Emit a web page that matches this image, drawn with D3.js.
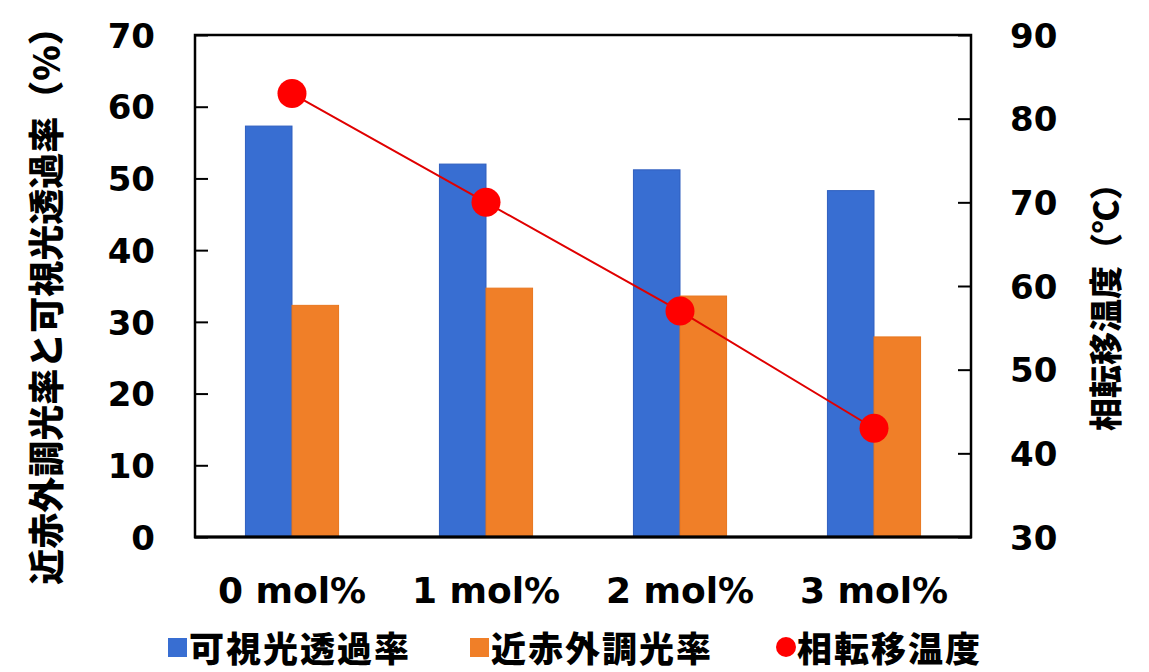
<!DOCTYPE html>
<html><head><meta charset="utf-8">
<script src="https://cdn.jsdelivr.net/npm/d3@7"></script>
<style>
body{margin:0;background:#fff;}
svg{display:block;}
.num{font-family:"DejaVu Sans",Verdana,sans-serif;font-weight:bold;fill:#000;}
.cjk{font-family:"Noto Sans CJK JP","Noto Sans CJK SC",sans-serif;font-weight:900;fill:#000;}
</style></head>
<body>
<svg id="c" width="1149" height="672"></svg>
<script>
const categories = ["0 mol%", "1 mol%", "2 mol%", "3 mol%"];
const visibleTransmittance = [57.3, 52.0, 51.2, 48.3];
const nirModulation = [32.3, 34.7, 33.6, 27.9];
const transitionTemp = [83, 70, 57, 43];
const leftTicks = [0, 10, 20, 30, 40, 50, 60, 70];
const rightTicks = [30, 40, 50, 60, 70, 80, 90];
const seriesNames = ["可視光透過率", "近赤外調光率", "相転移温度"];
const leftTitle = "近赤外調光率と可視光透過率（%）";
const rightTitle = "相転移温度（℃）";

const colBlue = "#386ED2", colOrange = "#F07F28", colRed = "#FF0000", colLine = "#E00000";
const L = 195, R = 971, T = 35, B = 537;
const svg = d3.select("#c");

const x = d3.scaleBand().domain(categories).range([L, R]).paddingInner(0).paddingOuter(0);
const bw = x.bandwidth() * 0.24;
const x1 = d3.scaleBand().domain(["v", "n"]).range([-bw, bw]);
const yL = d3.scaleLinear().domain([0, 70]).range([B, T]);
const yR = d3.scaleLinear().domain([30, 90]).range([B, T]);

// bars
const g = svg.append("g");
g.selectAll("rect.v").data(categories).join("rect")
  .attr("x", d => x(d) + x.bandwidth()/2 + x1("v"))
  .attr("y", (d,i) => yL(visibleTransmittance[i]))
  .attr("width", x1.bandwidth())
  .attr("height", (d,i) => yL(0) - yL(visibleTransmittance[i]))
  .attr("fill", colBlue).attr("stroke", "#2F5FBF").attr("stroke-width", 1);
g.selectAll("rect.n").data(categories).join("rect")
  .attr("x", d => x(d) + x.bandwidth()/2 + x1("n"))
  .attr("y", (d,i) => yL(nirModulation[i]))
  .attr("width", x1.bandwidth())
  .attr("height", (d,i) => yL(0) - yL(nirModulation[i]))
  .attr("fill", colOrange).attr("stroke", "#E8761E").attr("stroke-width", 1);

// axes
const axL = svg.append("g").attr("transform", `translate(${L},0)`)
  .call(d3.axisLeft(yL).tickValues(leftTicks).tickSize(-13).tickPadding(40));
const axR = svg.append("g").attr("transform", `translate(${R},0)`)
  .call(d3.axisRight(yR).tickValues(rightTicks).tickSize(-13).tickPadding(39));
[axL, axR].forEach(a => {
  a.select(".domain").remove();
  a.selectAll("line").attr("stroke", "#000").attr("stroke-width", 2);
  a.selectAll("text").attr("class", "num").style("font-size", "34px").attr("dy", "0.36em");
});

// frame
svg.append("rect").attr("x", L).attr("y", T).attr("width", R - L).attr("height", B - T)
  .attr("fill", "none").attr("stroke", "#000").attr("stroke-width", 2.5);
svg.append("line").attr("x1", L - 1).attr("x2", R + 1).attr("y1", B).attr("y2", B)
  .attr("stroke", "#000").attr("stroke-width", 3);

// x labels
const axB = svg.append("g").attr("transform", `translate(0,${B})`)
  .call(d3.axisBottom(x).tickSize(0).tickPadding(40));
axB.select(".domain").remove();
axB.selectAll("text").attr("class", "num").style("font-size", "36px").attr("dy", "0.36em")
  .attr("y", 53);

// line + markers
const line = d3.line().x((d,i) => x(categories[i]) + x.bandwidth()/2).y(d => yR(d));
svg.append("path").datum(transitionTemp).attr("d", line)
  .attr("fill", "none").attr("stroke", colLine).attr("stroke-width", 2);
svg.selectAll("circle.m").data(transitionTemp).join("circle")
  .attr("cx", (d,i) => x(categories[i]) + x.bandwidth()/2)
  .attr("cy", d => yR(d)).attr("r", 14.5).attr("fill", colRed);

// axis titles
svg.append("text").attr("class", "cjk").style("font-size", "36px")
  .attr("text-anchor", "middle").attr("dominant-baseline", "central")
  .attr("transform", "translate(44,297) rotate(-90)").text(leftTitle);
svg.append("text").attr("class", "cjk").style("font-size", "33px")
  .attr("text-anchor", "middle").attr("dominant-baseline", "central")
  .attr("transform", "translate(1104,299) rotate(-90)").text(rightTitle);

// legend
const legX = [168, 470, 776];
const lg = svg.append("g");
seriesNames.forEach((name, i) => {
  if (i < 2) {
    lg.append("rect").attr("x", legX[i]).attr("y", 638).attr("width", 19).attr("height", 19)
      .attr("fill", i === 0 ? colBlue : colOrange);
  } else {
    lg.append("circle").attr("cx", legX[i] + 10).attr("cy", 647).attr("r", 10).attr("fill", colRed);
  }
  lg.append("text").attr("class", "cjk").style("font-size", "35px").style("letter-spacing", "2px")
    .attr("x", legX[i] + 21).attr("y", 646).attr("dominant-baseline", "central").text(name);
});
</script>
</body></html>
